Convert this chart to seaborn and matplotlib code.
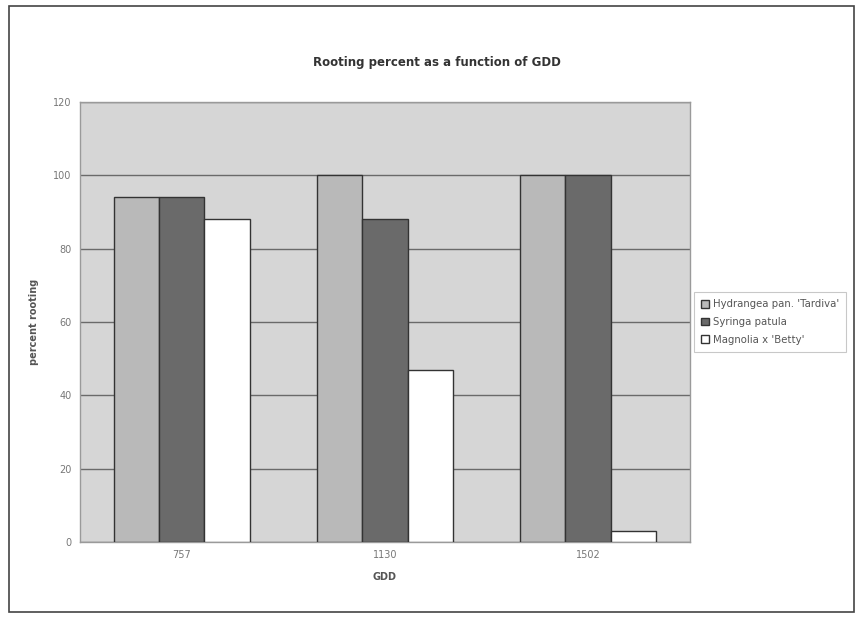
import matplotlib
matplotlib.use("Agg")
import matplotlib.pyplot as plt
import seaborn as sns
import pandas as pd
from matplotlib.patches import Rectangle

# GDD accumulation at sampling and rooting percentage per taxon
gdd_labels = ["757", "1130", "1502"]
taxa = ["Hydrangea pan. 'Tardiva'", "Syringa patula", "Magnolia x 'Betty'"]
hydrangea = [94, 100, 100]
syringa = [94, 88, 100]
magnolia = [88, 47, 3]

rows = []
for taxon, vals in zip(taxa, [hydrangea, syringa, magnolia]):
    for g, v in zip(gdd_labels, vals):
        rows.append({"GDD": g, "taxon": taxon, "percent rooting": v})
df = pd.DataFrame(rows)

sns.set_theme(style="white")
plt.rcParams["font.family"] = ["DejaVu Sans"]

fig = plt.figure(figsize=(8.61, 6.21), dpi=100)
fig.patch.set_facecolor("white")
ax = fig.add_axes([0.093, 0.127, 0.708, 0.709])
ax.set_facecolor("#d6d6d6")

palette = ["#b9b9b9", "#6a6a6a", "#ffffff"]
sns.barplot(data=df, x="GDD", y="percent rooting", hue="taxon",
            order=gdd_labels, hue_order=taxa, palette=palette,
            width=0.67, edgecolor="#333333", linewidth=1.0,
            saturation=1, ax=ax, zorder=3)

ax.set_ylim(0, 120)
ax.set_yticks(range(0, 121, 20))
ax.yaxis.grid(True, color="#6a6a6a", linewidth=1.0, zorder=0)
ax.set_axisbelow(True)
ax.tick_params(axis="both", labelsize=7, colors="#777777", length=0, pad=6)
for s in ax.spines.values():
    s.set_color("#9a9a9a")
    s.set_linewidth(1.0)

ax.set_xlabel("GDD", fontsize=7, fontweight="bold", color="#555555", labelpad=8)
ax.set_ylabel("percent rooting", fontsize=7, fontweight="bold", color="#555555", labelpad=10)

fig.text(0.508, 0.9, "Rooting percent as a function of GDD", ha="center", va="center",
         fontsize=8.5, fontweight="bold", color="#333333")

leg = ax.legend(loc="center left", bbox_to_anchor=(0.998, 0.5), fontsize=7.3,
                frameon=True, fancybox=False, handlelength=0.8, handleheight=0.8,
                handletextpad=0.4, borderpad=0.7, labelspacing=0.75,
                labelcolor="#555555")
leg.get_frame().set_edgecolor("#bbbbbb")
leg.get_frame().set_linewidth(0.8)

# outer frame around the whole chart
fig.patches.append(Rectangle((0.01, 0.015), 0.982, 0.975, transform=fig.transFigure,
                             fill=False, edgecolor="#444444", linewidth=1.2))

fig.savefig("out.png", dpi=100)
